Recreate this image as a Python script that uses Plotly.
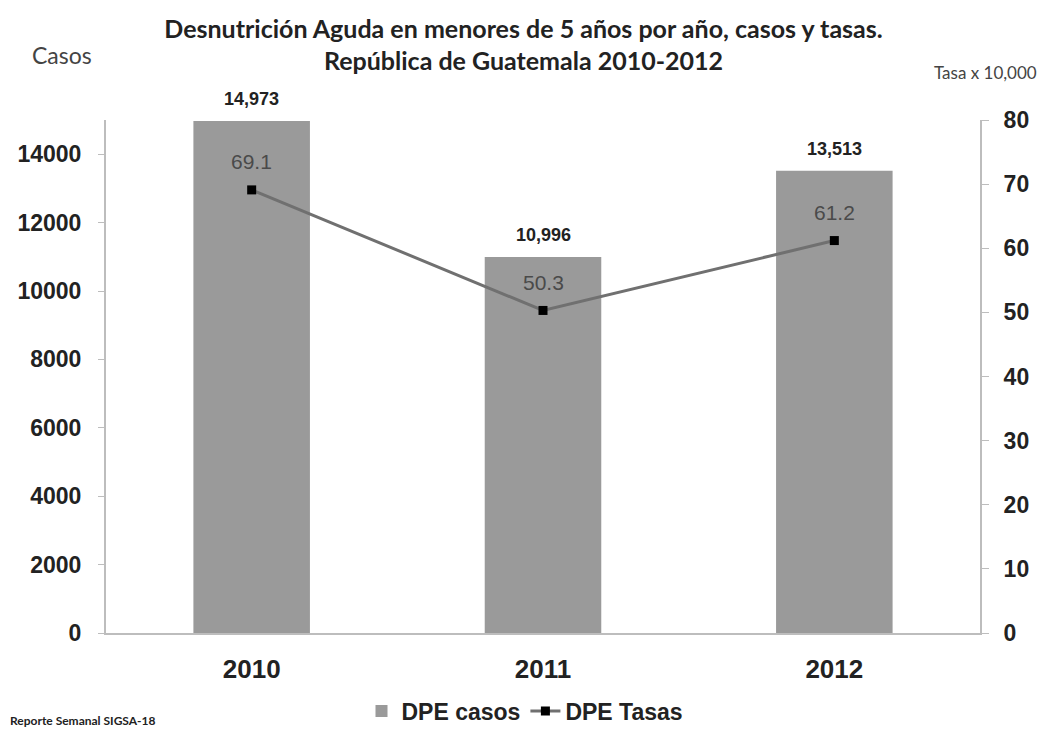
import plotly.graph_objects as go

years = ["2010", "2011", "2012"]
casos = [14973, 10996, 13513]
tasas = [69.1, 50.3, 61.2]
casos_labels = ["14,973", "10,996", "13,513"]
tasas_labels = ["69.1", "50.3", "61.2"]
left_ticks = [0, 2000, 4000, 6000, 8000, 10000, 12000, 14000]
right_ticks = [0, 10, 20, 30, 40, 50, 60, 70, 80]

FONT = "Liberation Sans"
OFF = 8  # page body margin
W, H = 1031, 720
L, R, T, B = 98, 59, 112, 95
PW, PH = W - L - R, H - T - B


def px(x_page):
    return (x_page - OFF - L) / PW


def py(y_page):
    return (H - B - (y_page - OFF)) / PH


xpos = list(range(len(years)))

fig = go.Figure()
fig.add_trace(go.Bar(
    x=xpos, y=casos, name="<b>DPE casos</b>",
    marker=dict(color="#9a9a9a", line=dict(width=0)),
    width=0.4,
))
fig.add_trace(go.Scatter(
    x=xpos, y=tasas, name="<b>DPE Tasas</b>", yaxis="y2",
    mode="lines+markers",
    line=dict(color="#707070", width=3),
    marker=dict(symbol="square", size=9, color="#000000"),
    cliponaxis=False,
))

annotations = []
for xi, v, lab in zip(xpos, casos, casos_labels):
    annotations.append(dict(
        x=xi, y=v, xref="x", yref="y", text=f"<b>{lab}</b>", showarrow=False,
        yanchor="middle", yshift=22,
        font=dict(family=FONT, size=18, color="#222222")))
for xi, v, lab in zip(xpos, tasas, tasas_labels):
    annotations.append(dict(
        x=xi, y=v, xref="x", yref="y2", text=lab, showarrow=False,
        yanchor="middle", yshift=28,
        font=dict(family=FONT, size=21, color="#4a4a4a")))

annotations += [
    dict(text="Casos", xref="paper", yref="paper", x=px(30), y=py(55),
         xanchor="left", yanchor="middle", showarrow=False,
         font=dict(family="Lato", size=23, color="#444444")),
    dict(text="Tasa x 10,000", xref="paper", yref="paper", x=px(1039), y=py(72),
         xanchor="right", yanchor="middle", showarrow=False,
         font=dict(family="Lato", size=17, color="#444444")),
    dict(text="<b>Reporte Semanal SIGSA-18</b>", xref="paper", yref="paper",
         x=px(8), y=py(720), xanchor="left", yanchor="middle", showarrow=False,
         font=dict(family="Lato", size=12, color="#222222")),
]

fig.update_layout(
    width=W, height=H,
    paper_bgcolor="white", plot_bgcolor="white",
    margin=dict(l=L, r=R, t=T, b=B, autoexpand=False),
    font=dict(family=FONT, color="#222222"),
    title=dict(
        text="<b>Desnutrición Aguda en menores de 5 años por año, casos y tasas.<br>República de Guatemala 2010-2012</b>",
        x=0.5, xanchor="center", y=0.959, yanchor="top",
        font=dict(family="Lato", size=25, color="#222222"),
    ),
    xaxis=dict(
        range=[-0.5, len(years) - 0.5], showline=True, linecolor="#bdbdbd",
        linewidth=2, ticks="", tickfont=dict(size=26, color="#222222", family=FONT),
        tickmode="array", tickvals=xpos, ticktext=[f"<b>{y}</b>" for y in years],
        ticklabelstandoff=12, showgrid=False, zeroline=False, automargin=False,
    ),
    yaxis=dict(
        range=[0, 15000], tickmode="array", tickvals=left_ticks,
        ticktext=[f"<b>{t}</b>" for t in left_ticks], showline=True,
        linecolor="#bdbdbd", linewidth=2, ticks="outside", ticklen=6,
        tickcolor="#bdbdbd", showgrid=False, zeroline=False,
        tickfont=dict(size=23, color="#222222", family=FONT),
        ticklabelstandoff=12, automargin=False,
    ),
    yaxis2=dict(
        range=[0, 80], tickmode="array", tickvals=right_ticks,
        ticktext=[f"<b>{t}</b>" for t in right_ticks],
        overlaying="y", side="right",
        showline=True, linecolor="#bdbdbd", linewidth=2, ticks="outside",
        ticklen=7, tickcolor="#bdbdbd", showgrid=False, zeroline=False,
        tickfont=dict(size=23, color="#222222", family=FONT),
        ticklabelstandoff=10, automargin=False,
    ),
    legend=dict(
        orientation="h", x=px(525), xanchor="center", y=py(711), yanchor="middle",
        font=dict(size=23, color="#222222", family=FONT),
        traceorder="normal",
    ),
    annotations=annotations,
)
fig.write_html("out.html")
